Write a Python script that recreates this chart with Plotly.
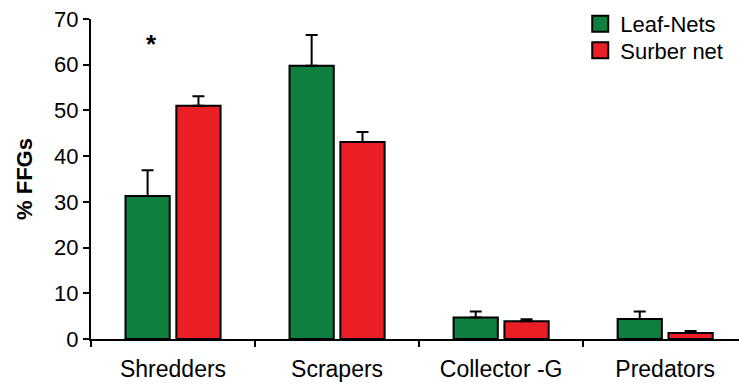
import plotly.graph_objects as go

categories = ["Shredders", "Scrapers", "Collector -G", "Predators"]
leaf_nets = [31.3, 59.8, 4.7, 4.4]
leaf_nets_err = [5.6, 6.7, 1.3, 1.6]
surber_net = [51.0, 43.1, 3.9, 1.3]
surber_net_err = [2.1, 2.2, 0.4, 0.45]
series_names = ["Leaf-Nets", "Surber net"]
colors = ["#0e7f3e", "#ea1f26"]
y_ticks = [0, 10, 20, 30, 40, 50, 60, 70]

FONT = "Liberation Sans, Arial, sans-serif"

fig = go.Figure()
for name, vals, errs, col, leg in [
    (series_names[0], leaf_nets, leaf_nets_err, colors[0], "legend"),
    (series_names[1], surber_net, surber_net_err, colors[1], "legend2"),
]:
    fig.add_trace(go.Bar(
        x=categories, y=vals, name=name, showlegend=False,
        marker=dict(color=col, line=dict(color="black", width=2)),
        error_y=dict(type="data", array=errs, symmetric=False, arrayminus=[0]*len(errs),
                     color="black", thickness=2, width=6),
    ))
    # legend entry
    fig.add_trace(go.Scatter(
        x=[None], y=[None], mode="markers", name=name, legend=leg,
        marker=dict(symbol="square", size=16, color=col, line=dict(color="black", width=2)),
    ))

fig.add_annotation(x=categories[0], y=64.5, xshift=-22, text="<b>*</b>", showarrow=False,
                   font=dict(size=26, color="black", family=FONT))

leg_common = dict(x=0.755, xanchor="left", yanchor="top",
                  font=dict(size=22, family=FONT), bgcolor="rgba(255,255,255,0)",
                  itemwidth=30)

fig.update_layout(
    width=739, height=384,
    margin=dict(l=91, r=0, t=19, b=45, autoexpand=False),
    paper_bgcolor="white", plot_bgcolor="white",
    barmode="group", bargap=0.38, bargroupgap=0.13,
    font=dict(family=FONT, color="black", size=22),
    legend=dict(y=1.05, **leg_common),
    legend2=dict(y=0.967, **leg_common),
    xaxis=dict(range=[-0.5, 3.45], showline=True, linecolor="black", linewidth=2,
               ticks="outside", tickson="boundaries", ticklen=6, tickwidth=2, tickcolor="black",
               tickfont=dict(size=23, family=FONT), showgrid=False, zeroline=False,
               automargin=False, ticklabelstandoff=8),
    yaxis=dict(range=[0, 70], tickvals=y_ticks, showline=True, linecolor="black", linewidth=2,
               ticks="outside", ticklen=6, tickwidth=2, tickcolor="black",
               tickfont=dict(size=22, family=FONT), showgrid=False, zeroline=False,
               automargin=False,
               title=dict(text="<b>% FFGs</b>", font=dict(size=22, family=FONT), standoff=15)),
)

fig.write_html("out.html", config={"displayModeBar": False},
               post_script="document.body.style.margin='0';document.body.style.overflow='hidden';")
